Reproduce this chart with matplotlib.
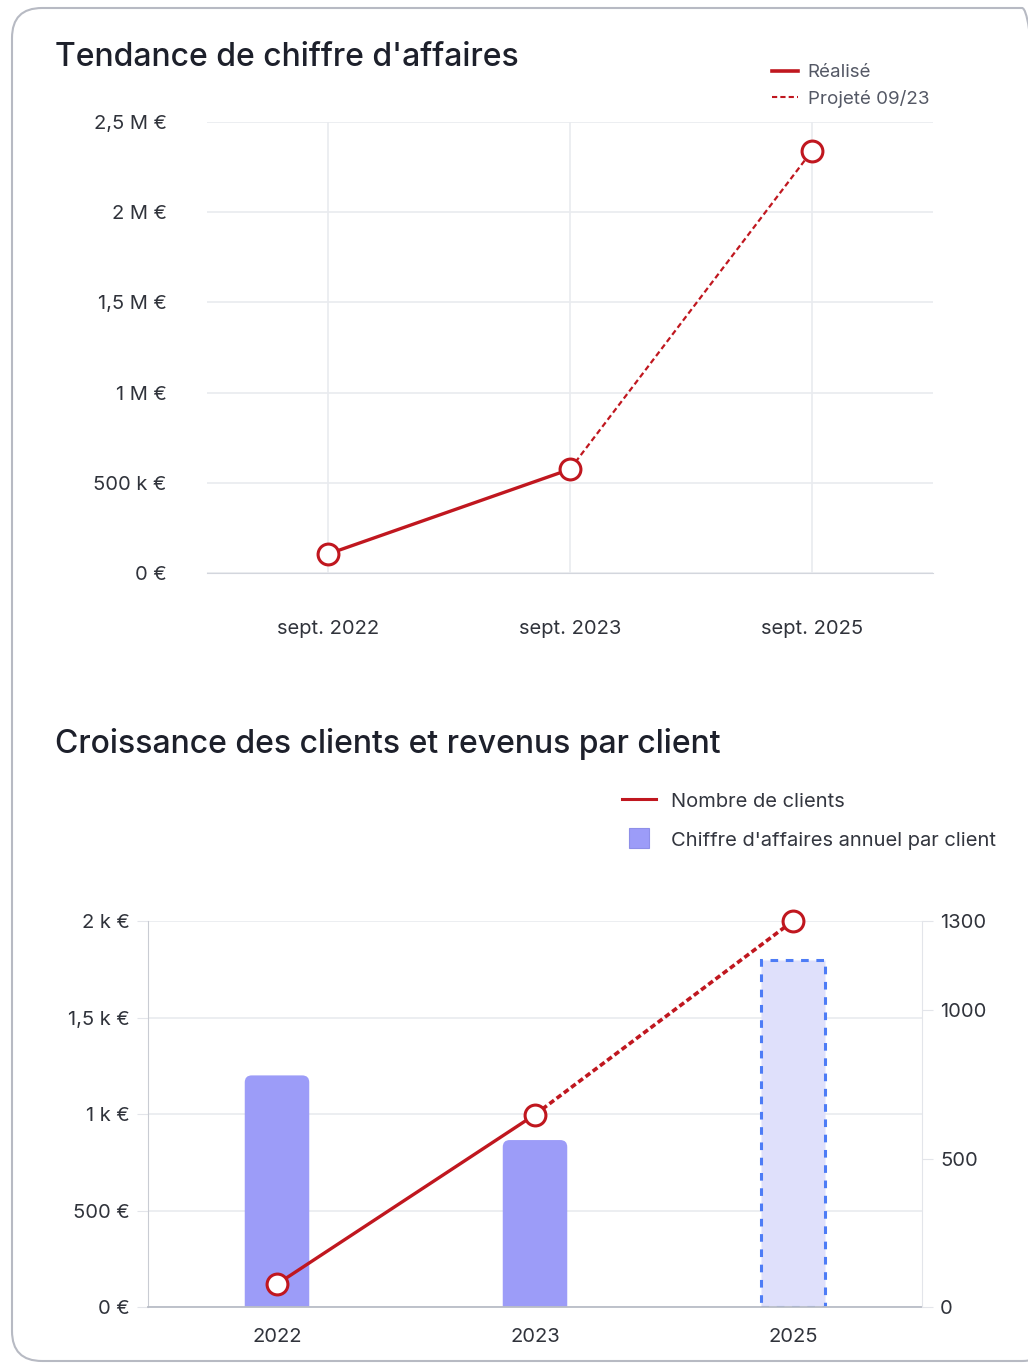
import numpy as np
import matplotlib
matplotlib.use("Agg")
import matplotlib.pyplot as plt
from matplotlib.patches import FancyBboxPatch
from matplotlib.lines import Line2D
from matplotlib.transforms import IdentityTransform

# Données - chiffre d'affaires
periodes = ["sept. 2022", "sept. 2023", "sept. 2025"]
ca = [0.105e6, 0.575e6, 2.34e6]
ca_ticks = [0, 0.5e6, 1e6, 1.5e6, 2e6, 2.5e6]
ca_labels = ["0 €", "500 k €", "1 M €", "1,5 M €", "2 M €", "2,5 M €"]

# Données - clients
annees = ["2022", "2023", "2025"]
ca_par_client = [1200, 865, 1800]
nb_clients = [77, 648, 1300]
eur_ticks = [0, 500, 1000, 1500, 2000]
eur_labels = ["0 €", "500 €", "1 k €", "1,5 k €", "2 k €"]
clients_ticks = [0, 500, 1000, 1300]

ROUGE = "#c0171f"
VIOLET = "#9c9cf8"
VIOLET_CLAIR = "#dfe0fb"
BLEU = "#4d7cf6"
GRILLE = "#e9ebef"
TEXTE = "#30333b"

plt.rcParams["font.family"] = ["Inter", "DejaVu Sans"]

W, H = 1028, 1363
fig = plt.figure(figsize=(W / 100, H / 100), dpi=100)
fig.patch.set_facecolor("white")

# cadre de la carte
carte = FancyBboxPatch((12, 2), 1040, 1353, boxstyle="round,pad=0,rounding_size=30",
                       transform=IdentityTransform(), facecolor="none",
                       edgecolor="#b7bac3", linewidth=1.5, zorder=-1)
fig.patches.append(carte)


def axes_px(x0, y0, x1, y1):
    return fig.add_axes([x0 / W, 1 - y1 / H, (x1 - x0) / W, (y1 - y0) / H])


# ---------------- Graphique 1 ----------------
ax1 = axes_px(207, 122, 933, 573)
ax1.patch.set_alpha(0)
x = np.arange(len(periodes))
ax1.plot(x[:2], ca[:2], color=ROUGE, lw=2.4, zorder=3)
ax1.plot(x[1:], ca[1:], color=ROUGE, lw=1.6, ls=(0, (2.5, 1.5)), zorder=3)
ax1.plot(x, ca, ls="none", marker="o", ms=15, mfc="white", mec=ROUGE, mew=2.2, zorder=4)
ax1.set_xlim(-0.5, 2.5)
ax1.set_ylim(0, 2.5e6)
ax1.set_yticks(ca_ticks)
ax1.set_yticklabels(ca_labels)
ax1.set_xticks(x)
ax1.set_xticklabels(periodes)
ax1.grid(True, color=GRILLE, lw=1.2)
ax1.set_axisbelow(True)
for s in ["top", "right", "left"]:
    ax1.spines[s].set_visible(False)
ax1.spines["bottom"].set_color("#d3d6dd")
ax1.tick_params(axis="both", length=0, labelsize=14.5, colors=TEXTE)
ax1.tick_params(axis="y", pad=29)
ax1.tick_params(axis="x", pad=34)

fig.text(55 / W, 1 - 57 / H, "Tendance de chiffre d'affaires", fontsize=23,
         fontweight="medium", color="#1d202b", va="center", ha="left")

poignees1 = [Line2D([], [], color=ROUGE, lw=2.6),
             Line2D([], [], color=ROUGE, lw=1.5, ls=(0, (2.5, 1.5)))]
fig.legend(poignees1, ["Réalisé", "Projeté 09/23"], loc="upper left",
           bbox_to_anchor=(772 / W, 1 - 64 / H), frameon=False, fontsize=13.5,
           labelcolor="#545865", handlelength=1.4, handletextpad=0.5,
           labelspacing=0.45, borderpad=0, borderaxespad=0)

# ---------------- Graphique 2 ----------------
ax2 = axes_px(148, 921, 922, 1307)
ax3 = ax2.twinx()
ax2.patch.set_alpha(0)
xb = np.arange(len(annees))
ax2.set_xlim(-0.5, 2.5)
ax2.set_ylim(0, 2000)

barres = ax2.bar(xb[:2], ca_par_client[:2], width=0.25, color=VIOLET, zorder=2)
# coins arrondis en haut des barres
ux = 3 / 774
uy = 2000 / 386
for b in barres:
    bx, by = b.get_x(), b.get_y()
    bw, bh = b.get_width(), b.get_height()
    b.set_visible(False)
    ax2.add_patch(FancyBboxPatch((bx, by - 50), bw, bh + 50,
                                 boxstyle="round,pad=0,rounding_size=%f" % (7 * ux),
                                 mutation_aspect=uy / ux, facecolor=VIOLET,
                                 edgecolor="none", zorder=2))
ax2.bar(xb[2], ca_par_client[2], width=0.25, color=VIOLET_CLAIR, edgecolor=BLEU,
        linewidth=2.2, linestyle=(0, (2.5, 2.5)), zorder=2)

ax2.set_yticks(eur_ticks)
ax2.set_yticklabels(eur_labels)
ax2.set_xticks(xb)
ax2.set_xticklabels(annees)
ax2.grid(True, axis="y", color=GRILLE, lw=1.2)
ax2.set_axisbelow(True)
ax2.spines["top"].set_visible(False)
ax2.spines["right"].set_visible(False)
ax2.spines["left"].set_color("#c9ccd3")
ax2.spines["bottom"].set_color("#b9bdc6")
ax2.spines["bottom"].set_linewidth(1.3)
ax2.tick_params(axis="y", length=8, color="#e3e5ea", labelsize=14.5, colors=TEXTE, pad=5)
ax2.tick_params(axis="x", length=0, labelsize=14.5, colors=TEXTE, pad=15)

ax3.set_ylim(0, 1300)
ax3.set_yticks(clients_ticks)
ax3.plot(xb[:2], nb_clients[:2], color=ROUGE, lw=2.4, zorder=3)
ax3.plot(xb[1:], nb_clients[1:], color=ROUGE, lw=2.6, ls=(0, (1.6, 0.9)), zorder=3)
ax3.plot(xb, nb_clients, ls="none", marker="o", ms=15, mfc="white", mec=ROUGE,
         mew=2.2, zorder=4, clip_on=False)
for s in ["top", "left", "bottom"]:
    ax3.spines[s].set_visible(False)
ax3.spines["right"].set_color("#e3e5ea")
ax3.tick_params(axis="y", length=8, color="#e3e5ea", labelsize=14.5, colors=TEXTE, pad=5)

fig.text(55 / W, 1 - 744 / H, "Croissance des clients et revenus par client", fontsize=23,
         fontweight="medium", color="#1d202b", va="center", ha="left")

poignees2 = [Line2D([], [], color=ROUGE, lw=2.2),
             Line2D([], [], ls="none", marker="s", ms=15, color=VIOLET,
                    markeredgecolor="#8e8fe8", markeredgewidth=0.8)]
fig.legend(poignees2, ["Nombre de clients", "Chiffre d'affaires annuel par client"],
           loc="upper left", bbox_to_anchor=(622 / W, 1 - 791 / H), frameon=False,
           fontsize=14.5, labelcolor="#33363f", handlelength=1.7, handleheight=1.0,
           handletextpad=0.75, labelspacing=0.95, borderpad=0, borderaxespad=0)

fig.savefig("out.png", dpi=100)
